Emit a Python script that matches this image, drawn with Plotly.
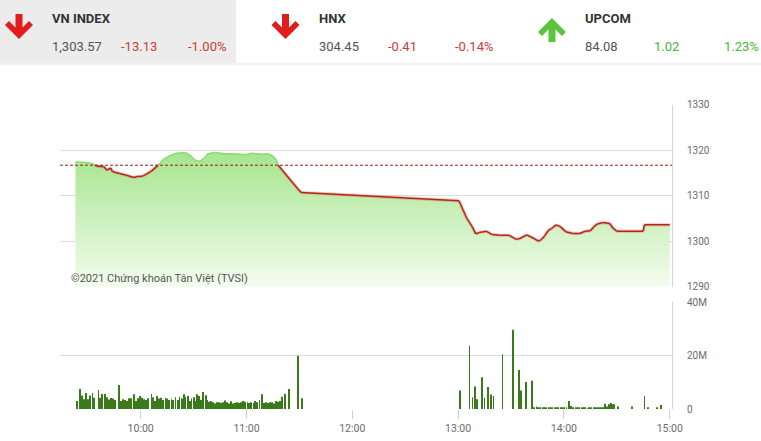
import plotly.graph_objects as go
from datetime import datetime, timedelta

# ---------------- data ----------------
index_names = ["VN INDEX", "HNX", "UPCOM"]
index_values = ["1,303.57", "304.45", "84.08"]
index_changes = ["-13.13", "-0.41", "1.02"]
index_pcts = ["-1.00%", "-0.14%", "1.23%"]
index_up = [False, False, True]

ref_price = 1316.70

# minutes after 09:00
price_minutes = [23, 29, 33, 35, 39, 41, 43, 44, 48, 52,
                 56, 58, 61, 63, 66, 69, 71, 73, 77, 80,
                 85, 88, 91, 93, 96, 98, 102, 108, 114, 119,
                 123, 129, 132, 135, 137, 138, 148, 151,
                 240.5, 245, 248, 250, 252, 256, 259, 264, 269, 273,
                 275, 279, 283, 285.5, 287, 289, 291, 293, 295.5, 298,
                 301, 305, 309, 312, 315, 317, 319, 322, 326, 328,
                 330, 345, 345.6, 360]
prices = [1317.4, 1317.3, 1317.0, 1316.5, 1316.4, 1315.6, 1316.1, 1315.3, 1314.9, 1314.5,
          1314.0, 1314.2, 1314.3, 1314.7, 1315.4, 1316.4, 1317.1, 1318.0, 1318.9, 1319.3,
          1319.5, 1318.9, 1317.8, 1317.5, 1318.2, 1319.2, 1319.5, 1319.2, 1319.2, 1319.0,
          1319.3, 1319.1, 1319.2, 1318.7, 1317.8, 1316.7, 1312.0, 1310.7,
          1308.9, 1305.0, 1303.2, 1301.6, 1301.9, 1302.2, 1301.5, 1301.3, 1301.3, 1300.4,
          1300.6, 1301.4, 1300.6, 1300.0, 1300.3, 1301.1, 1302.3, 1302.8, 1303.6, 1303.2,
          1302.1, 1301.7, 1301.7, 1302.2, 1302.3, 1303.2, 1303.8, 1304.1, 1303.9, 1302.8,
          1302.2, 1302.2, 1303.6, 1303.6]

vol_minutes_am = [24.0, 25.7, 26.9, 28.0, 29.1, 30.3, 31.1, 32.6, 33.7, 36.0,
                  37.1, 38.2, 39.8, 40.9, 42.2, 43.3, 44.5, 45.6, 47.9, 49.0,
                  50.1, 51.3, 52.4, 53.5, 54.7, 56.4, 57.5, 58.6, 59.8, 60.9,
                  62.0, 63.2, 64.0, 66.2, 67.0, 68.1, 69.4, 70.5, 71.7, 72.8,
                  74.0, 75.1, 76.2, 77.4, 78.5, 79.8, 81.0, 82.1, 83.3, 84.4,
                  85.5, 86.7, 87.8, 88.9, 90.1, 91.2, 92.1, 93.2, 94.4, 95.5,
                  97.0, 97.8, 98.9, 100.0, 101.2, 102.3, 103.4, 104.6, 105.7, 106.8,
                  108.0, 109.1, 110.2, 111.4, 112.5, 113.6, 114.8, 115.9, 117.0, 118.2,
                  119.3, 120.5, 121.6, 122.7, 123.9, 125.0, 126.1, 127.3, 128.8, 129.9,
                  131.1, 132.2, 133.3, 134.5, 135.6, 136.7, 137.9, 139.0, 140.3, 142.0,
                  144.3, 149.4, 151.6]
vols_am = [3.0, 7.5, 5.1, 3.7, 6.0, 3.7, 5.1, 6.0, 4.2, 7.1,
           4.2, 5.6, 5.6, 4.4, 3.6, 4.1, 3.9, 3.4, 9.0, 3.0,
           3.7, 3.4, 3.0, 4.0, 4.0, 5.5, 3.0, 4.0, 4.9, 4.2,
           3.7, 3.4, 4.0, 5.6, 4.4, 3.0, 4.9, 3.9, 4.2, 3.4,
           4.2, 3.9, 3.4, 3.7, 3.4, 4.4, 3.4, 4.6, 3.9, 5.5,
           4.6, 4.9, 3.0, 3.9, 4.4, 3.0, 5.5, 4.9, 3.4, 6.4,
           5.2, 3.4, 2.7, 3.0, 2.5, 2.1, 2.5, 2.5, 2.25, 2.5,
           3.2, 2.5, 2.1, 2.9, 2.1, 2.25, 2.5, 2.25, 2.5, 3.0,
           2.7, 2.5, 2.25, 2.5, 2.25, 3.0, 2.5, 3.4, 5.5, 2.25,
           2.5, 2.25, 2.5, 2.5, 2.1, 3.0, 2.7, 3.0, 4.6, 5.6,
           7.5, 20.0, 4.0]
vol_minutes_pm = [241.2, 246.4, 248.1, 249.6, 250.9, 253.7, 254.9, 257.1, 258.7, 260.0,
                  265.1, 271.3, 274.7, 275.8, 278.7, 282.1,
                  283.2, 284.4, 285.5, 286.6, 287.8, 288.9, 290.0, 291.2, 292.3, 293.4,
                  294.6, 295.7, 296.8, 298.0, 299.1, 300.2, 301.4,
                  302.9, 304.2,
                  305.3, 306.5, 307.6, 308.7, 309.9, 311.0, 312.1, 313.3, 314.4, 315.5,
                  316.7, 317.8, 318.9, 320.1, 321.2, 322.3,
                  323.3, 324.4, 325.6, 326.7, 327.8, 328.6, 330.7,
                  338.6, 345.7, 347.8, 352.9, 355.2]
vols_pm = [6.9, 23.7, 4.4, 8.4, 3.7, 11.9, 4.1, 8.25, 5.4, 4.9,
           20.5, 29.7, 14.6, 6.9, 10.1, 10.6,
           0.4, 0.9, 0.4, 0.5, 0.6, 0.6, 0.4, 0.3, 0.5, 0.3,
           0.4, 0.3, 0.4, 0.3, 0.3, 0.5, 0.4,
           3.0, 1.1,
           0.6, 0.5, 0.4, 0.3, 0.3, 0.3, 0.3, 0.2, 0.4, 0.3,
           0.3, 0.3, 0.3, 0.3, 0.3, 0.5,
           2.0, 0.9, 1.8, 2.25, 1.8, 1.8, 0.9,
           0.9, 4.9, 0.4, 0.4, 1.5]

price_ticks = [1290, 1300, 1310, 1320, 1330]
vol_ticks = [0, 20, 40]
vol_tick_labels = ["0", "20M", "40M"]
time_tick_minutes = [60, 120, 180, 240, 300, 360]
time_tick_labels = ["10:00", "11:00", "12:00", "13:00", "14:00", "15:00"]
watermark = "©2021 Chứng khoán Tân Việt (TVSI)"

# ---------------- helpers ----------------
W, H = 761, 441
ML, MR, MT, MB = 60, 89, 104, 32
BASE = datetime(2021, 3, 1, 9, 0)


def t(m):
    return BASE + timedelta(minutes=m)


def px(x):
    return (x - ML) / (W - ML - MR)


def py(y):
    return (H - MB - y) / (H - MT - MB)


# split the price line into parts above / below the reference
def split_line(xs, ys, ref):
    up_x, up_y, dn_x, dn_y = [], [], [], []
    for i in range(len(xs) - 1):
        x0, y0, x1, y1 = xs[i], ys[i], xs[i + 1], ys[i + 1]
        a0, a1 = y0 >= ref, y1 >= ref
        if a0 == a1:
            tx, ty = (up_x, up_y) if a0 else (dn_x, dn_y)
            tx += [t(x0), t(x1), None]
            ty += [y0, y1, None]
        else:
            xc = x0 + (ref - y0) / (y1 - y0) * (x1 - x0)
            if a0:
                up_x += [t(x0), t(xc), None]; up_y += [y0, ref, None]
                dn_x += [t(xc), t(x1), None]; dn_y += [ref, y1, None]
            else:
                dn_x += [t(x0), t(xc), None]; dn_y += [y0, ref, None]
                up_x += [t(xc), t(x1), None]; up_y += [ref, y1, None]
    return up_x, up_y, dn_x, dn_y


px_times = [t(m) for m in price_minutes]
up_x, up_y, dn_x, dn_y = split_line(price_minutes, prices, ref_price)

fig = go.Figure()

fig.add_trace(go.Scatter(
    x=px_times, y=prices, mode="lines", line=dict(width=0),
    fill="tozeroy",
    fillgradient=dict(type="vertical", start=1290, stop=1320,
                      colorscale=[[0, "#f3fcef"], [1, "#a5e58c"]]),
    hoverinfo="skip", showlegend=False, xaxis="x", yaxis="y"))
fig.add_trace(go.Scatter(
    x=up_x, y=up_y, mode="lines", line=dict(color="#8fd875", width=1.6),
    hoverinfo="skip", showlegend=False, xaxis="x", yaxis="y"))
fig.add_trace(go.Scatter(
    x=dn_x, y=dn_y, mode="lines", line=dict(color="rgba(230,110,90,0.35)", width=3.4),
    hoverinfo="skip", showlegend=False, xaxis="x", yaxis="y"))
fig.add_trace(go.Scatter(
    x=dn_x, y=dn_y, mode="lines", line=dict(color="#b3261e", width=1.5),
    hoverinfo="skip", showlegend=False, xaxis="x", yaxis="y"))

fig.add_trace(go.Bar(
    x=[t(m) for m in vol_minutes_am + vol_minutes_pm], y=vols_am + vols_pm,
    width=24000, marker=dict(color="#3a7a1a", line=dict(width=0)),
    hoverinfo="skip", showlegend=False, xaxis="x2", yaxis="y2"))

xrange = [t(14.25), t(361.3)]
axis_font = dict(family="Roboto", size=10, color="#6b6b6b")

fig.update_layout(
    width=W, height=H, autosize=False,
    margin=dict(l=ML, r=MR, t=MT, b=MB, pad=0, autoexpand=False),
    paper_bgcolor="white", plot_bgcolor="white",
    font=dict(family="Roboto"),
    xaxis=dict(domain=[0, 1], anchor="y", type="date", range=xrange,
               showgrid=False, showticklabels=False, ticks="", showline=False,
               zeroline=False, fixedrange=True, automargin=False),
    xaxis2=dict(domain=[0, 1], anchor="y2", type="date", range=xrange,
                showgrid=False, tickvals=[t(m) for m in time_tick_minutes],
                ticktext=time_tick_labels, ticks="outside", ticklen=9,
                tickcolor="#d0d0d0", tickwidth=1, automargin=False,
                tickfont=dict(family="Roboto", size=10.5, color="#6b6b6b"),
                showline=False, zeroline=False),
    yaxis=dict(domain=[py(286.7), py(104.7)], anchor="x", side="right",
               range=[1290, 1330], tickvals=price_ticks, automargin=False,
               showgrid=True, gridcolor="#dcdcdc", gridwidth=1,
               showline=True, linecolor="#d4d4d4", linewidth=1,
               zeroline=False, ticks="", ticklabelstandoff=12, tickfont=axis_font),
    yaxis2=dict(domain=[0, py(302.3)], anchor="x2", side="right",
                range=[0, 40], tickvals=vol_ticks, ticktext=vol_tick_labels,
                showgrid=True, gridcolor="#dcdcdc", gridwidth=1, automargin=False,
                showline=True, linecolor="#d4d4d4", linewidth=1,
                zeroline=False, ticks="", ticklabelstandoff=12, tickfont=axis_font),
)

shapes = []
annotations = []

# header background
shapes.append(dict(type="rect", xref="paper", yref="paper",
                   x0=px(0), x1=px(236), y0=py(63), y1=py(0),
                   fillcolor="#ececec", line=dict(width=0), layer="below"))
shapes.append(dict(type="line", xref="paper", yref="paper",
                   x0=px(0), x1=px(W), y0=py(64), y1=py(64),
                   line=dict(color="#e3e3e3", width=1), layer="below"))

# reference dashed line
shapes.append(dict(type="line", xref="x domain", yref="y", x0=0, x1=1,
                   y0=ref_price, y1=ref_price,
                   line=dict(color="#9a1c16", width=1, dash="3px,2px")))


def arrow_path(cx, top, bottom, up):
    if up:
        pts = [(cx, top), (cx + 14, top + 14), (cx + 10, top + 18), (cx + 3.5, top + 11.5),
               (cx + 3.5, bottom), (cx - 3.5, bottom), (cx - 3.5, top + 11.5),
               (cx - 10, top + 18), (cx - 14, top + 14)]
    else:
        pts = [(cx, bottom), (cx + 14, bottom - 14), (cx + 10, bottom - 18),
               (cx + 3.5, bottom - 11.5), (cx + 3.5, top), (cx - 3.5, top),
               (cx - 3.5, bottom - 11.5), (cx - 10, bottom - 18), (cx - 14, bottom - 14)]
    return "M " + " L ".join(f"{px(x):.5f},{py(y):.5f}" for x, y in pts) + " Z"


panel_offsets = [0, 266.5, 533]
for i, off in enumerate(panel_offsets):
    up = index_up[i]
    col = "#3fb83a" if up else "#cf3a36"
    acol = "#5cc43a" if up else "#e21b1b"
    if up:
        path = arrow_path(19 + off, 18, 42, True)
    else:
        path = arrow_path(19 + off, 14, 39, False)
    shapes.append(dict(type="path", xref="paper", yref="paper", path=path,
                       fillcolor=acol, line=dict(width=0)))
    annotations.append(dict(xref="paper", yref="paper", x=px(50 + off), y=py(18.5),
                            text=f"<b>{index_names[i]}</b>", showarrow=False,
                            xanchor="left", yanchor="middle",
                            font=dict(family="Roboto", size=13, color="#333333")))
    annotations.append(dict(xref="paper", yref="paper", x=px(50 + off), y=py(46.5),
                            text=index_values[i], showarrow=False,
                            xanchor="left", yanchor="middle",
                            font=dict(family="Roboto", size=13, color="#555555")))
    annotations.append(dict(xref="paper", yref="paper", x=px(119 + off), y=py(46.5),
                            text=index_changes[i], showarrow=False,
                            xanchor="left", yanchor="middle",
                            font=dict(family="Roboto", size=13, color=col)))
    annotations.append(dict(xref="paper", yref="paper", x=px(228 + off), y=py(46.5),
                            text=index_pcts[i], showarrow=False,
                            xanchor="right", yanchor="middle",
                            font=dict(family="Roboto", size=13, color=col)))

annotations.append(dict(xref="paper", yref="paper", x=px(69), y=py(278.5),
                        text=watermark, showarrow=False, xanchor="left", yanchor="middle",
                        font=dict(family="Roboto", size=11, color="#555555")))

fig.update_layout(shapes=shapes, annotations=annotations)

fig.write_html("out.html", config={"displayModeBar": False},
               post_script="document.body.style.margin='0';")
